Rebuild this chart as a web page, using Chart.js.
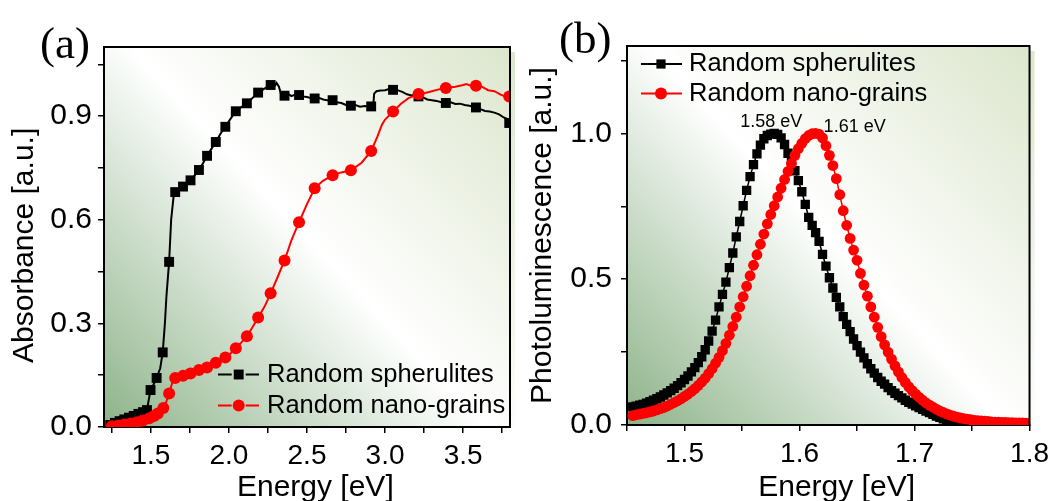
<!DOCTYPE html>
<html>
<head>
<meta charset="utf-8">
<script src="https://cdn.jsdelivr.net/npm/chart.js@4.4.1/dist/chart.umd.min.js"></script>
<style>
  html, body { margin: 0; padding: 0; background: #fff; }
  #wrap { position: relative; width: 1055px; height: 501px; overflow: hidden; }
  canvas { position: absolute; top: 0; }
  #chartA { left: 0; }
  #chartB { left: 527px; }
</style>
</head>
<body>
<div id="wrap">
  <canvas id="chartA" width="527" height="501"></canvas>
  <canvas id="chartB" width="528" height="501"></canvas>
</div>
<script>
// ---- panel (a): absorbance ----
var spherLineE = [1.235,1.24,1.27,1.30,1.33,1.36,1.39,1.42,1.45,1.475,1.485,1.498,1.52,1.537,1.56,1.576,1.59,1.60,1.617,1.63,
  1.645,1.656,1.68,1.706,1.73,1.754,1.78,1.808,1.835,1.860,1.888,1.916,1.945,1.977,2.01,2.044,2.08,2.115,2.15,2.187,
  2.23,2.267,2.29,2.305,2.32,2.335,2.356,2.38,2.40,2.425,2.449,2.47,2.50,2.525,2.549,2.58,2.61,2.64,2.664,2.69,
  2.72,2.75,2.781,2.81,2.84,2.87,2.90,2.911,2.925,2.93,2.945,2.97,3.00,3.025,3.051,3.08,3.11,3.14,3.17,3.19,
  3.214,3.24,3.27,3.30,3.33,3.36,3.389,3.42,3.45,3.48,3.51,3.54,3.582,3.61,3.64,3.67,3.70,3.73,3.76,3.78,3.795,3.81];
var spherLineA = [0.003,0.006,0.012,0.017,0.022,0.027,0.032,0.038,0.043,0.049,0.075,0.107,0.125,0.142,0.170,0.216,0.300,0.380,0.478,0.600,
  0.665,0.680,0.688,0.696,0.705,0.714,0.728,0.744,0.764,0.785,0.805,0.825,0.848,0.869,0.892,0.914,0.926,0.937,0.952,0.968,
  0.980,0.990,0.985,0.996,0.985,0.962,0.959,0.964,0.958,0.962,0.961,0.957,0.955,0.952,0.951,0.952,0.947,0.945,0.946,0.940,
  0.938,0.932,0.930,0.932,0.927,0.929,0.928,0.928,0.935,0.965,0.972,0.974,0.975,0.978,0.976,0.975,0.970,0.963,0.960,0.962,
  0.957,0.955,0.948,0.946,0.944,0.940,0.938,0.940,0.935,0.936,0.932,0.930,0.925,0.920,0.915,0.913,0.910,0.905,0.896,0.892,0.880,0.875];
var spherMarkE = [1.24,1.27,1.30,1.33,1.36,1.39,1.42,1.45,1.475,1.498,1.537,1.576,1.617,1.656,1.706,1.754,1.808,1.860,1.916,1.977,
  2.044,2.115,2.187,2.267,2.356,2.449,2.549,2.664,2.781,2.911,3.051,3.214,3.389,3.582,3.795];
var spherMarkA = [0.006,0.012,0.017,0.022,0.027,0.032,0.038,0.043,0.049,0.107,0.142,0.216,0.478,0.680,0.696,0.714,0.744,0.785,0.825,0.869,
  0.914,0.937,0.968,0.990,0.959,0.961,0.951,0.946,0.930,0.928,0.976,0.957,0.938,0.925,0.880];

var grainLineE = [1.235,1.25,1.29,1.33,1.37,1.41,1.45,1.49,1.52,1.545,1.565,1.580,1.60,1.617,1.635,1.656,1.68,1.706,1.73,1.754,
  1.78,1.808,1.835,1.860,1.888,1.916,1.945,1.977,2.01,2.044,2.08,2.115,2.15,2.187,2.23,2.267,2.31,2.356,2.40,2.449,
  2.50,2.549,2.60,2.664,2.72,2.781,2.85,2.911,2.95,2.98,3.00,3.051,3.10,3.15,3.214,3.25,3.30,3.35,3.389,3.45,
  3.50,3.52,3.55,3.582,3.62,3.66,3.70,3.74,3.78,3.795,3.81];
var grainLineA = [0.001,0.002,0.004,0.007,0.010,0.014,0.019,0.025,0.032,0.039,0.045,0.055,0.075,0.097,0.125,0.142,0.145,0.148,0.151,0.155,
  0.160,0.165,0.168,0.172,0.179,0.186,0.193,0.201,0.213,0.228,0.245,0.263,0.288,0.317,0.350,0.387,0.432,0.482,0.540,0.593,
  0.645,0.691,0.712,0.729,0.737,0.743,0.765,0.799,0.840,0.875,0.890,0.913,0.935,0.952,0.964,0.966,0.972,0.978,0.981,0.985,
  0.990,0.993,0.988,0.988,0.985,0.975,0.972,0.962,0.955,0.957,0.955];
var grainMarkE = [1.25,1.29,1.33,1.37,1.41,1.45,1.49,1.52,1.545,1.580,1.617,1.656,1.706,1.754,1.808,1.860,1.916,1.977,2.044,
  2.115,2.187,2.267,2.356,2.449,2.549,2.664,2.781,2.911,3.051,3.214,3.389,3.582,3.795];
var grainMarkA = [0.002,0.004,0.007,0.010,0.014,0.019,0.025,0.032,0.039,0.055,0.097,0.142,0.148,0.155,0.165,0.172,0.186,0.201,0.228,
  0.263,0.317,0.387,0.482,0.593,0.691,0.729,0.743,0.799,0.913,0.964,0.981,0.988,0.957];

var xTicksA = [1.25,1.5,1.75,2.0,2.25,2.5,2.75,3.0,3.25,3.5,3.75];
var xMajorA = [1.5,2.0,2.5,3.0,3.5];
var yTicksA = [0,0.15,0.3,0.45,0.6,0.75,0.9,1.05];
var yMajorA = [0,0.3,0.6,0.9];

// ---- panel (b): photoluminescence ----
var plE = [1.455,1.458,1.461,1.464,1.467,1.470,1.473,1.476,1.479,1.482,
  1.485,1.488,1.491,1.494,1.497,1.500,1.503,1.506,1.509,1.512,
  1.515,1.518,1.521,1.524,1.527,1.530,1.533,1.536,1.539,1.542,
  1.545,1.548,1.551,1.554,1.557,1.560,1.563,1.566,1.569,1.572,
  1.575,1.578,1.581,1.584,1.587,1.590,1.593,1.596,1.599,1.602,
  1.605,1.608,1.611,1.614,1.617,1.620,1.623,1.626,1.629,1.632,
  1.635,1.638,1.641,1.644,1.647,1.650,1.653,1.656,1.659,1.662,
  1.665,1.668,1.671,1.674,1.677,1.680,1.683,1.686,1.689,1.692,
  1.695,1.698,1.701,1.704,1.707,1.710,1.713,1.716,1.719,1.722,
  1.725,1.728,1.731,1.734,1.737,1.740,1.743,1.746,1.749,1.752,
  1.755,1.758,1.761,1.764,1.767,1.770,1.773,1.776,1.779,1.782,
  1.785,1.788,1.791,1.794,1.797,1.800];
var plSpher = [0.062,0.065,0.068,0.071,0.075,0.080,0.085,0.090,0.096,0.103,
  0.110,0.118,0.126,0.135,0.145,0.156,0.168,0.182,0.197,0.214,
  0.234,0.258,0.288,0.322,0.360,0.405,0.448,0.490,0.540,0.590,
  0.645,0.698,0.752,0.805,0.852,0.893,0.930,0.960,0.982,0.993,
  0.998,1.000,0.997,0.985,0.962,0.932,0.902,0.872,0.838,0.800,
  0.757,0.712,0.685,0.660,0.630,0.585,0.545,0.505,0.470,0.438,
  0.405,0.372,0.345,0.320,0.295,0.272,0.250,0.230,0.210,0.193,
  0.178,0.163,0.150,0.140,0.128,0.118,0.109,0.101,0.093,0.085,
  0.078,0.072,0.066,0.060,0.054,0.048,0.043,0.037,0.031,0.026,
  0.021,0.017,0.013,0.010,0.007,0.005,0.003,0.001,0.000,null,
  null,null,null,null,null,null,null,null,null,null,
  null,null,null,null,null,null];
var plGrain = [0.032,0.035,0.037,0.040,0.042,0.045,0.048,0.052,0.056,0.060,
  0.065,0.071,0.077,0.083,0.090,0.098,0.106,0.115,0.125,0.136,
  0.148,0.161,0.176,0.193,0.212,0.232,0.255,0.280,0.308,0.338,
  0.370,0.405,0.440,0.476,0.512,0.548,0.584,0.620,0.655,0.690,
  0.722,0.752,0.782,0.812,0.842,0.870,0.897,0.925,0.948,0.966,
  0.982,0.993,0.999,1.000,0.998,0.985,0.958,0.925,0.890,0.845,
  0.790,0.735,0.685,0.640,0.600,0.565,0.520,0.480,0.442,0.405,
  0.370,0.335,0.303,0.275,0.250,0.226,0.203,0.182,0.163,0.146,
  0.131,0.118,0.106,0.095,0.085,0.076,0.068,0.061,0.054,0.048,
  0.043,0.038,0.034,0.030,0.027,0.024,0.022,0.020,0.018,0.016,
  0.015,0.014,0.013,0.012,0.011,0.010,0.010,0.009,0.009,0.008,
  0.008,0.007,0.007,0.007,0.006,0.006];
var peakText = ['1.58 eV', '1.61 eV'];
var peakE = [1.578, 1.614];
var peakPL = [1.0, 1.0];

var xTicksB = [1.45,1.5,1.55,1.6,1.65,1.7,1.75,1.8];
var xMajorB = [1.5,1.6,1.7,1.8];
var yTicksB = [0,0.25,0.5,0.75,1.0,1.25];
var yMajorB = [0,0.5,1.0];

var BLACK = '#000000';
var RED = '#ff0000';
var SANS = "'Liberation Sans', Arial, sans-serif";
var SERIF = "'Liberation Serif', 'Times New Roman', serif";

Chart.defaults.font.family = SANS;
Chart.defaults.color = '#000';

function pairs(xs, ys) {
  var out = [];
  for (var i = 0; i < xs.length; i++) {
    if (ys[i] !== null) out.push({ x: xs[i], y: ys[i] });
  }
  return out;
}

function majorLabel(majors) {
  return function (value) {
    for (var i = 0; i < majors.length; i++) {
      if (Math.abs(majors[i] - value) < 1e-6) return value.toFixed(1);
    }
    return '';
  };
}

function drawMarker(ctx, style, x, y, r, color) {
  ctx.fillStyle = color;
  ctx.beginPath();
  if (style === 'rect') {
    var s = r * Math.SQRT1_2;
    ctx.rect(x - s, y - s, 2 * s, 2 * s);
  } else {
    ctx.arc(x, y, r, 0, Math.PI * 2);
  }
  ctx.fill();
}

// background gradient, frame, legend, panel letter, peak notes
var decorPlugin = {
  id: 'decor',
  beforeDraw: function (chart) {
    var a = chart.chartArea, ctx = chart.ctx;
    var g = ctx.createLinearGradient(a.left, a.bottom, a.right, a.top);
    g.addColorStop(0, '#8db389');
    g.addColorStop(0.5, '#ffffff');
    g.addColorStop(1, '#dce6cd');
    ctx.save();
    ctx.fillStyle = g;
    ctx.fillRect(a.left, a.top, a.right - a.left, a.bottom - a.top);
    ctx.fillRect(a.right, a.top + 5, 5, a.bottom - a.top - 5);
    ctx.restore();
  },
  afterDraw: function (chart, args, opts) {
    var a = chart.chartArea, ctx = chart.ctx;
    ctx.save();
    // top and right edges of the frame
    ctx.strokeStyle = '#000';
    ctx.lineWidth = 2;
    ctx.beginPath();
    ctx.moveTo(a.left - 1, a.top);
    ctx.lineTo(a.right, a.top);
    ctx.lineTo(a.right, a.bottom + 1);
    ctx.stroke();

    // legend
    var lg = opts.legend;
    var entries = chart.data.datasets.filter(function (d) { return d.legendStyle; });
    entries.sort(function (p, q) { return p.legendRank - q.legendRank; });
    ctx.font = lg.fontSize + 'px ' + SANS;
    ctx.textBaseline = 'middle';
    ctx.textAlign = 'left';
    entries.forEach(function (d, i) {
      var y = lg.fromBottom ? a.bottom + lg.rows[i] : a.top + lg.rows[i];
      var x0 = a.left + lg.lineFrom, x1 = a.left + lg.lineTo, xm = a.left + lg.marker;
      ctx.strokeStyle = d.legendColor;
      ctx.lineWidth = 2;
      ctx.beginPath();
      if (lg.gap) {
        ctx.moveTo(x0, y); ctx.lineTo(xm - lg.gap, y);
        ctx.moveTo(xm + lg.gap, y); ctx.lineTo(x1, y);
      } else {
        ctx.moveTo(x0, y); ctx.lineTo(x1, y);
      }
      ctx.stroke();
      drawMarker(ctx, d.legendStyle, xm, y, d.legendStyle === 'rect' ? lg.rectR : lg.circleR, d.legendColor);
      ctx.fillStyle = '#000';
      ctx.fillText(d.label, a.left + lg.text, y);
    });

    // panel letter
    ctx.font = '45px ' + SERIF;
    ctx.textBaseline = 'alphabetic';
    ctx.fillStyle = '#000';
    ctx.fillText(opts.letter, opts.letterX, opts.letterY);

    // peak notes
    if (opts.notes) {
      var xs = chart.scales.x, ys = chart.scales.y;
      ctx.font = '18px ' + SANS;
      opts.notes.text.forEach(function (t, i) {
        ctx.textAlign = opts.notes.align[i];
        ctx.fillText(t, xs.getPixelForValue(opts.notes.e[i]) + opts.notes.dx[i],
          ys.getPixelForValue(opts.notes.v[i]) + opts.notes.dy[i]);
      });
    }
    ctx.restore();
  }
};

function makeScales(cfg) {
  return {
    x: {
      type: 'linear',
      min: cfg.xMin, max: cfg.xMax,
      afterBuildTicks: function (s) { s.ticks = cfg.xTicks.map(function (v) { return { value: v }; }); },
      afterFit: function (s) { s.height = cfg.xHeight; },
      ticks: { callback: majorLabel(cfg.xMajor), autoSkip: false, maxRotation: 0, padding: 6,
        font: { size: 28 }, color: '#000' },
      grid: { drawOnChartArea: false, drawTicks: true, tickLength: 6, color: '#000', lineWidth: 1.5 },
      border: { display: true, color: '#000', width: 2 },
      title: { display: true, text: '  Energy [eV]', font: { size: 30 }, color: '#000',
        padding: { top: 0, bottom: -5 } }
    },
    y: {
      type: 'linear',
      min: cfg.yMin, max: cfg.yMax,
      afterBuildTicks: function (s) { s.ticks = cfg.yTicks.map(function (v) { return { value: v }; }); },
      afterFit: function (s) { s.width = cfg.yWidth; },
      ticks: { callback: majorLabel(cfg.yMajor), autoSkip: false, padding: cfg.yPad,
        font: { size: 30 }, color: '#000' },
      grid: { drawOnChartArea: false, drawTicks: true, tickLength: 6, color: '#000', lineWidth: 1.5 },
      border: { display: true, color: '#000', width: 2 },
      title: { display: true, text: cfg.yTitle, font: { size: 30 }, color: '#000',
        padding: { top: cfg.yTitlePad, bottom: 0 } }
    }
  };
}

new Chart(document.getElementById('chartA'), {
  type: 'line',
  data: {
    datasets: [
      { label: 'Random nano-grains', data: pairs(grainMarkE, grainMarkA), showLine: false,
        pointStyle: 'circle', pointRadius: 6, pointBackgroundColor: RED, pointBorderWidth: 0, order: 0,
        legendStyle: 'circle', legendColor: RED, legendRank: 1 },
      { label: 'nano-grains line', data: pairs(grainLineE, grainLineA), borderColor: RED, borderWidth: 2,
        pointRadius: 0, tension: 0, order: 1 },
      { label: 'Random spherulites', data: pairs(spherMarkE, spherMarkA), showLine: false,
        pointStyle: 'rect', pointRadius: 7, pointBackgroundColor: BLACK, pointBorderWidth: 0, order: 2,
        legendStyle: 'rect', legendColor: BLACK, legendRank: 0 },
      { label: 'spherulites line', data: pairs(spherLineE, spherLineA), borderColor: BLACK, borderWidth: 2,
        pointRadius: 0, tension: 0, order: 3 }
    ]
  },
  options: {
    responsive: false,
    animation: false,
    events: [],
    layout: { padding: { left: 0, top: 47, right: 17, bottom: 0 } },
    scales: makeScales({
      xMin: 1.2, xMax: 3.8, xTicks: xTicksA, xMajor: xMajorA, xHeight: 74,
      yMin: 0, yMax: 1.1, yTicks: yTicksA, yMajor: yMajorA, yWidth: 104, yPad: 6,
      yTitle: 'Absorbance [a.u.]  ', yTitlePad: 7
    }),
    plugins: {
      legend: { display: false },
      tooltip: { enabled: false },
      decor: {
        letter: '(a)', letterX: 40, letterY: 58,
        legend: { fromBottom: true, rows: [-52.5, -21.5], lineFrom: 114, lineTo: 155, marker: 134.7,
          text: 163, gap: 7, fontSize: 25.5, rectR: 7, circleR: 6 }
      }
    }
  },
  plugins: [decorPlugin]
});

new Chart(document.getElementById('chartB'), {
  type: 'line',
  data: {
    datasets: [
      { label: 'Random nano-grains', data: pairs(plE, plGrain), borderColor: RED, borderWidth: 1.5,
        pointStyle: 'circle', pointRadius: 5.4, pointBackgroundColor: RED, pointBorderWidth: 0,
        tension: 0, order: 0, legendStyle: 'circle', legendColor: RED, legendRank: 1 },
      { label: 'Random spherulites', data: pairs(plE, plSpher), borderColor: BLACK, borderWidth: 1.5,
        pointStyle: 'rect', pointRadius: 6.6, pointBackgroundColor: BLACK, pointBorderWidth: 0,
        tension: 0, order: 1, legendStyle: 'rect', legendColor: BLACK, legendRank: 0 }
    ]
  },
  options: {
    responsive: false,
    animation: false,
    events: [],
    layout: { padding: { left: 0, top: 46, right: 23, bottom: 0 } },
    scales: makeScales({
      xMin: 1.45, xMax: 1.8, xTicks: xTicksB, xMajor: xMajorB, xHeight: 76,
      yMin: 0, yMax: 1.3, yTicks: yTicksB, yMajor: yMajorB, yWidth: 100, yPad: 9,
      yTitle: 'Photoluminescence [a.u.]', yTitlePad: -2
    }),
    plugins: {
      legend: { display: false },
      tooltip: { enabled: false },
      decor: {
        letter: '(b)', letterX: 32, letterY: 53,
        legend: { fromBottom: false, rows: [18, 47.5], lineFrom: 14, lineTo: 55, marker: 34,
          text: 62, gap: 0, fontSize: 25.5, rectR: 6.5, circleR: 6 },
        notes: { text: peakText, e: peakE, v: peakPL, align: ['center', 'left'], dx: [-3, 8], dy: [-6, -1] }
      }
    }
  },
  plugins: [decorPlugin]
});
</script>
</body>
</html>
